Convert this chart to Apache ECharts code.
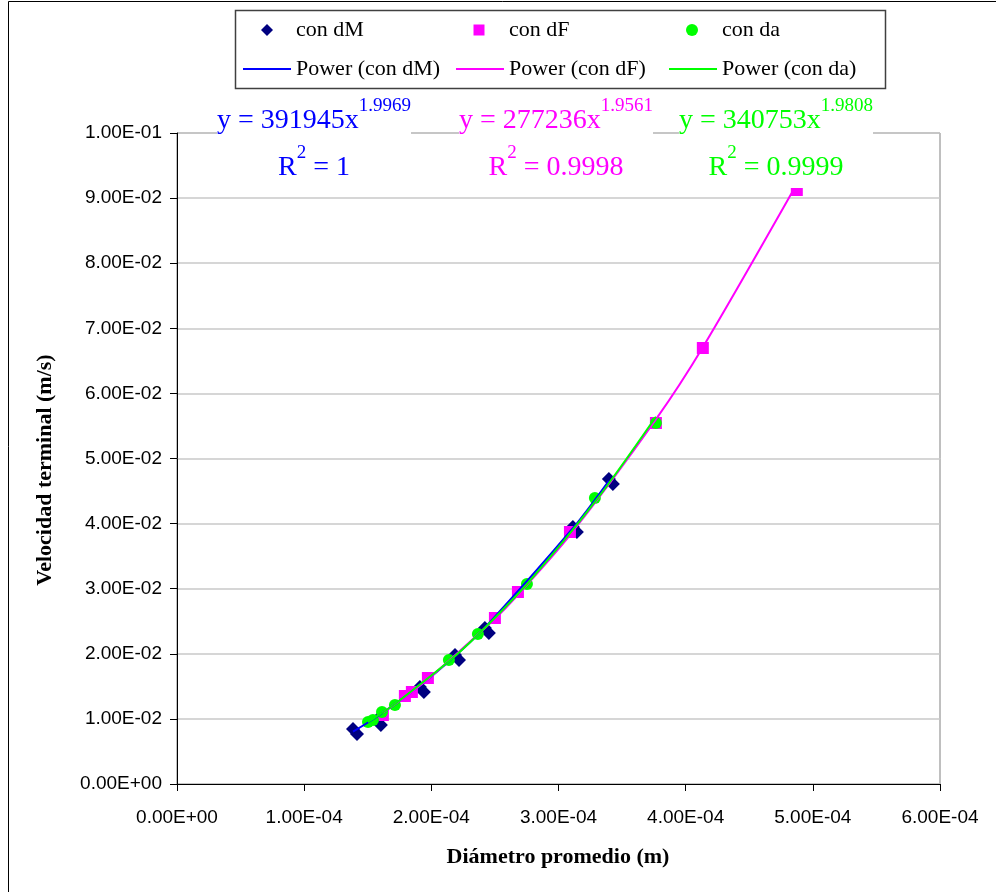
<!DOCTYPE html>
<html>
<head>
<meta charset="utf-8">
<script src="https://cdn.jsdelivr.net/npm/echarts@6/dist/echarts.min.js"></script>
<style>
  html, body { margin: 0; padding: 0; background: #fff; }
  #show { width: 996px; height: 892px; }
</style>
</head>
<body>
<div id="show"></div>
<script>
// datos
const dM_x = [1.384e-4, 1.572e-4, 1.910e-4, 2.186e-4, 2.421e-4, 3.113e-4, 3.396e-4];
const dM_y = [0.00845, 0.00983, 0.01490, 0.01982, 0.02396, 0.03948, 0.04685];
const dF_x = [1.619e-4, 1.792e-4, 1.847e-4, 1.973e-4, 2.500e-4, 2.681e-4, 3.090e-4, 3.766e-4, 4.135e-4, 4.874e-4];
const dF_y = [0.01060, 0.01352, 0.01413, 0.01628, 0.02550, 0.02949, 0.03871, 0.05545, 0.06697, 0.09124];
const da_x = [1.502e-4, 1.541e-4, 1.612e-4, 1.714e-4, 2.138e-4, 2.366e-4, 2.752e-4, 3.286e-4, 3.766e-4];
const da_y = [0.00952, 0.00983, 0.01106, 0.01214, 0.01905, 0.02304, 0.03072, 0.04393, 0.05545];

const xTickLabels = ['0.00E+00', '1.00E-04', '2.00E-04', '3.00E-04', '4.00E-04', '5.00E-04', '6.00E-04'];
const yTickLabels = ['0.00E+00', '1.00E-02', '2.00E-02', '3.00E-02', '4.00E-02', '5.00E-02',
                     '6.00E-02', '7.00E-02', '8.00E-02', '9.00E-02', '1.00E-01'];

const eqTexts = [
  { base: 'y = 391945x', sup: '1.9969', r2: ' = 1', color: '#0000ff', cx: 314 },
  { base: 'y = 277236x', sup: '1.9561', r2: ' = 0.9998', color: '#ff00ff', cx: 556 },
  { base: 'y = 340753x', sup: '1.9808', r2: ' = 0.9999', color: '#00ff00', cx: 776 }
];

function pairs(xs, ys) {
  return xs.map((x, i) => [x, ys[i]]);
}

// ajuste potencial y = a x^b (minimos cuadrados en log-log), evaluado en las x medidas
function powerTrend(xs, ys) {
  let n = xs.length, sx = 0, sy = 0, sxx = 0, sxy = 0;
  for (let i = 0; i < n; i++) {
    let lx = Math.log(xs[i]), ly = Math.log(ys[i]);
    sx += lx; sy += ly; sxx += lx * lx; sxy += lx * ly;
  }
  let b = (n * sxy - sx * sy) / (n * sxx - sx * sx);
  let a = Math.exp((sy - b * sx) / n);
  return xs.slice().sort((p, q) => p - q).map(x => [x, a * Math.pow(x, b)]);
}

let ctx = document.createElement('canvas').getContext('2d');
function textWidth(t, font) {
  ctx.font = font;
  return ctx.measureText(t).width;
}

const serif = '"Liberation Serif", "Times New Roman", serif';
const eqFont = '28px ' + serif;
const supFont = '19px ' + serif;

// texto con superindice, centrado en cx
function richLine(pieces, cx, y, color) {
  let total = 0;
  pieces.forEach(p => { p.w = textWidth(p.t, p.sup ? supFont : eqFont); total += p.w; });
  let x = cx - total / 2;
  let out = [];
  pieces.forEach(p => {
    out.push({
      type: 'text', z: 20, x: x, y: p.sup ? y - 15 : y,
      style: { text: p.t, font: p.sup ? supFont : eqFont, fill: color, align: 'left', verticalAlign: 'middle' }
    });
    x += p.w;
  });
  return out;
}

let graphics = [
  // borde del grafico (arriba e izquierda)
  { type: 'polyline', z: 1, shape: { points: [[8.5, 892], [8.5, 1.5], [996, 1.5]] },
    style: { fill: null, stroke: '#000', lineWidth: 1 } },
  // caja de la leyenda
  { type: 'rect', z: 1, shape: { x: 235.5, y: 10.5, width: 650, height: 78 },
    style: { fill: '#fff', stroke: '#404040', lineWidth: 1.5 } },
  // titulos de ejes
  { type: 'text', z: 20, x: 45, y: 470, rotation: Math.PI / 2,
    style: { text: 'Velocidad terminal (m/s)', font: 'bold 22px ' + serif, fill: '#000', align: 'center', verticalAlign: 'middle' } },
  { type: 'text', z: 20, x: 558, y: 857,
    style: { text: 'Diámetro promedio (m)', font: 'bold 22px ' + serif, fill: '#000', align: 'center', verticalAlign: 'middle' } }
];

eqTexts.forEach(e => {
  let w = textWidth(e.base, eqFont) + textWidth(e.sup, supFont);
  graphics.push({ type: 'rect', z: 15, shape: { x: e.cx - w / 2, y: 95, width: w, height: 93 },
    style: { fill: '#fff' } });
  graphics = graphics.concat(richLine([{ t: e.base }, { t: e.sup, sup: true }], e.cx, 121, e.color));
  graphics = graphics.concat(richLine([{ t: 'R' }, { t: '2', sup: true }, { t: e.r2 }], e.cx, 168, e.color));
});

let noShadow = { shadowColor: 'rgba(0,0,0,0)', shadowOffsetX: 0, shadowOffsetY: 0, shadowBlur: 0 };
function leg(name, left, top, w, h, pad, icon) {
  let l = { data: [name], left: left, top: top, padding: 0, itemWidth: w, itemHeight: h,
            textStyle: { fontFamily: serif, fontSize: 22, color: '#000', padding: [0, 0, 0, pad] },
            itemStyle: noShadow };
  if (icon) l.icon = icon;
  return l;
}

let myChart = echarts.init(document.getElementById('show'));
myChart.setOption({
  backgroundColor: '#fff',
  animation: false,
  grid: {
    left: 177, right: 56, top: 133, bottom: 108,
    show: true, borderColor: '#808080', borderWidth: 1,
    outerBoundsMode: 'none'
  },
  legend: [
    leg('con dM', 261, 19, 12, 12, 18),
    leg('con dF', 473.5, 19, 11, 11, 19.5),
    leg('con da', 686, 19, 12, 12, 19),
    leg('Power (con dM)', 243, 58, 48, 2, 0, 'rect'),
    leg('Power (con dF)', 456, 58, 48, 2, 0, 'rect'),
    leg('Power (con da)', 669, 58, 48, 2, 0, 'rect')
  ],
  xAxis: {
    type: 'value', min: 0, max: 6e-4, interval: 1e-4,
    splitLine: { show: false },
    axisLine: { lineStyle: { color: '#000', width: 1 } },
    axisTick: { show: true, length: 7, lineStyle: { color: '#000' } },
    axisLabel: {
      margin: 24, fontFamily: '"Liberation Sans", Arial, sans-serif', fontSize: 19, color: '#000',
      formatter: (v, i) => xTickLabels[i]
    }
  },
  yAxis: {
    type: 'value', min: 0, max: 0.1, interval: 0.01,
    splitLine: { show: true, lineStyle: { color: '#c8c8c8', width: 1.5 } },
    axisLine: { show: true, lineStyle: { color: '#000', width: 1 } },
    axisTick: { show: true, length: 7, lineStyle: { color: '#000' } },
    axisLabel: {
      margin: 15, fontFamily: '"Liberation Sans", Arial, sans-serif', fontSize: 19, color: '#000',
      formatter: (v, i) => yTickLabels[i]
    }
  },
  series: [
    {
      name: 'con dM', type: 'scatter', symbol: 'diamond', symbolSize: 14,
      data: pairs(dM_x, dM_y),
      itemStyle: { color: '#000080', opacity: 1, shadowColor: '#000080', shadowOffsetX: 4, shadowOffsetY: 5, shadowBlur: 0 }
    },
    {
      name: 'con dF', type: 'scatter', symbol: 'rect', symbolSize: 12,
      data: pairs(dF_x, dF_y),
      itemStyle: { color: '#ff00ff', opacity: 1 }
    },
    {
      name: 'con da', type: 'scatter', symbol: 'circle', symbolSize: 12,
      data: pairs(da_x, da_y),
      itemStyle: { color: '#00ff00', opacity: 1 }
    },
    {
      name: 'Power (con dM)', type: 'line', smooth: 0.3, showSymbol: false, z: 5,
      data: powerTrend(dM_x, dM_y),
      itemStyle: { color: '#0000ff' }, lineStyle: { color: '#0000ff', width: 2 }
    },
    {
      name: 'Power (con dF)', type: 'line', smooth: 0.3, showSymbol: false, z: 5,
      data: powerTrend(dF_x, dF_y),
      itemStyle: { color: '#ff00ff' }, lineStyle: { color: '#ff00ff', width: 2 }
    },
    {
      name: 'Power (con da)', type: 'line', smooth: 0.3, showSymbol: false, z: 5,
      data: powerTrend(da_x, da_y),
      itemStyle: { color: '#00ff00' }, lineStyle: { color: '#00ff00', width: 2 }
    }
  ],
  graphic: graphics
});
</script>
</body>
</html>
